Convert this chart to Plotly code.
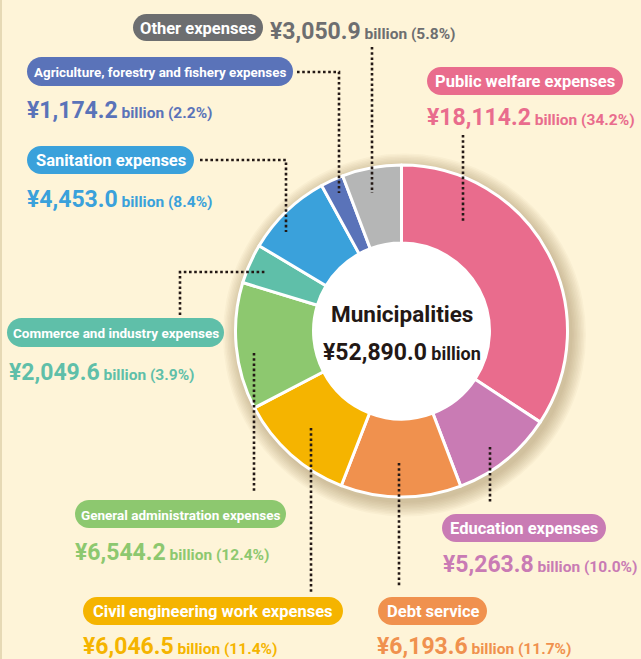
import plotly.graph_objects as go

# ---------------- data ----------------
categories = ["Public welfare expenses", "Education expenses", "Debt service",
              "Civil engineering work expenses", "General administration expenses",
              "Commerce and industry expenses", "Sanitation expenses",
              "Agriculture, forestry and fishery expenses", "Other expenses"]
values = [18114.2, 5263.8, 6193.6, 6046.5, 6544.2, 2049.6, 4453.0, 1174.2, 3050.9]
shares = [34.2, 10.0, 11.7, 11.4, 12.4, 3.9, 8.4, 2.2, 5.8]
total_label = "¥52,890.0"
center_title = "Municipalities"

slice_colors = ["#E96C8D", "#C97BB4", "#F0914E", "#F5B400", "#8DC86F",
                "#5FBFA9", "#3AA1DB", "#5A73B9", "#B5B6B6"]
text_colors = ["#E96C8D", "#C97BB4", "#F0914E", "#F5B400", "#8DC86F",
               "#5FBFA9", "#3AA1DB", "#5A73B9", "#6D6E70"]
pill_colors = ["#E96C8D", "#C97BB4", "#F0914E", "#F5B400", "#8DC86F",
               "#5FBFA9", "#3AA1DB", "#5A73B9", "#6D6E70"]

W, H = 641, 659
BG = "#FEF4D8"
FONT = "Roboto, Liberation Sans, sans-serif"

# ---------------- layout geometry (pixels) ----------------
pie_box = (235, 568, 165, 497)  # x0, x1, y0(top), y1(bottom)
HOLE = 0.53
cx, cy = (pie_box[0] + pie_box[1]) / 2, (pie_box[2] + pie_box[3]) / 2
R = (pie_box[1] - pie_box[0]) / 2

pills = [  # x0, x1, y0, y1
    (427, 623, 67, 95),
    (442, 606, 514, 542),
    (378, 487, 597, 625),
    (83, 343, 597, 625),
    (75, 286, 500, 528),
    (7, 224, 318, 347),
    (27, 194, 146, 174),
    (27, 293, 57, 86),
    (133, 263, 14, 41),
]
pill_font = [16.5, 16.5, 16.5, 16.5, 13.5, 13.5, 16.5, 13.4, 16.5]
value_pos = [
    (425, 117), (441, 564), (375, 646), (81, 646), (73, 552),
    (7, 372), (25, 199), (25, 110), (268, 31),
]
leaders = [
    [(463, 135), (463, 222)],
    [(490, 447), (490, 503)],
    [(399, 463), (399, 587)],
    [(311, 428), (311, 593)],
    [(254, 353), (254, 493)],
    [(180, 315), (180, 272), (267, 272)],
    [(200, 160), (286, 160), (286, 232)],
    [(297, 72), (339, 72), (339, 193)],
    [(372, 47), (372, 193)],
]


def pill_path(x0, x1, y0, y1):
    r = (y1 - y0) / 2
    k = 0.5523 * r
    return (f"M{x0 + r},{y0} L{x1 - r},{y0} "
            f"C{x1 - r + k},{y0} {x1},{y0 + r - k} {x1},{y0 + r} "
            f"C{x1},{y0 + r + k} {x1 - r + k},{y1} {x1 - r},{y1} "
            f"L{x0 + r},{y1} "
            f"C{x0 + r - k},{y1} {x0},{y0 + r + k} {x0},{y0 + r} "
            f"C{x0},{y0 + r - k} {x0 + r - k},{y0} {x0 + r},{y0} Z")


fig = go.Figure()

fig.add_trace(go.Pie(
    labels=categories, values=values, sort=False, direction="clockwise",
    rotation=0, hole=HOLE,
    marker=dict(colors=slice_colors, line=dict(color="white", width=3)),
    textinfo="none", hoverinfo="label+value+percent", showlegend=False,
    domain=dict(x=[pie_box[0] / W, pie_box[1] / W],
                y=[1 - pie_box[3] / H, 1 - pie_box[2] / H]),
))

shapes = []
# soft shadow behind donut
for i in range(10):
    rr = R + 15 - i * 1.5
    shapes.append(dict(type="circle", xref="x", yref="y", layer="below",
                       x0=cx + 3 - rr, x1=cx + 3 + rr, y0=cy + 4 - rr, y1=cy + 4 + rr,
                       fillcolor="rgba(140,110,50,0.04)", line=dict(width=0)))
# white hole
rh = R * HOLE + 1
shapes.append(dict(type="circle", xref="x", yref="y", layer="below",
                   x0=cx - rh, x1=cx + rh, y0=cy - rh, y1=cy + rh,
                   fillcolor="white", line=dict(width=0)))
# left border line
shapes.append(dict(type="line", xref="x", yref="y", x0=1, x1=1, y0=0, y1=H,
                   line=dict(color="#E6D9B5", width=2), layer="below"))

annotations = []
for i, cat in enumerate(categories):
    x0, x1, y0, y1 = pills[i]
    shapes.append(dict(type="path", xref="x", yref="y", path=pill_path(x0, x1, y0, y1),
                       fillcolor=pill_colors[i], line=dict(width=0), layer="above"))
    annotations.append(dict(x=(x0 + x1) / 2, y=(y0 + y1) / 2 + 0.5, xref="x", yref="y",
                            text=cat, showarrow=False, xanchor="center", yanchor="middle",
                            font=dict(family=FONT, size=pill_font[i], color="white", weight="bold")))
    vx, vy = value_pos[i]
    txt = f"¥{values[i]:,.1f}<span style='font-size:15.5px'> billion ({shares[i]:.1f}%)</span>"
    annotations.append(dict(x=vx, y=vy, xref="x", yref="y", showarrow=False,
                            xanchor="left", yanchor="middle", text=txt,
                            font=dict(family=FONT, size=23, color=text_colors[i], weight="bold")))
    pts = leaders[i]
    path = "M" + " L".join(f"{px},{py}" for px, py in pts)
    shapes.append(dict(type="path", xref="x", yref="y", path=path, layer="above",
                       line=dict(color="#231815", width=2.6, dash="2.6px,2.6px")))

annotations.append(dict(x=cx, y=314, xref="x", yref="y", showarrow=False,
                        text=center_title, xanchor="center", yanchor="middle",
                        font=dict(family=FONT, size=22.5, color="#231815", weight="bold")))
annotations.append(dict(x=cx, y=352, xref="x", yref="y", showarrow=False,
                        text=f"{total_label}<span style='font-size:18px'> billion</span>",
                        xanchor="center", yanchor="middle",
                        font=dict(family=FONT, size=23, color="#231815", weight="bold")))

fig.update_layout(
    width=W, height=H, margin=dict(l=0, r=0, t=0, b=0),
    paper_bgcolor=BG, plot_bgcolor=BG,
    xaxis=dict(range=[0, W], visible=False, fixedrange=True, domain=[0, 1]),
    yaxis=dict(range=[H, 0], visible=False, fixedrange=True, domain=[0, 1]),
    shapes=shapes, annotations=annotations, showlegend=False,
)

fig.write_html("out.html", config={"displayModeBar": False},
               post_script="document.body.style.margin='0';")
